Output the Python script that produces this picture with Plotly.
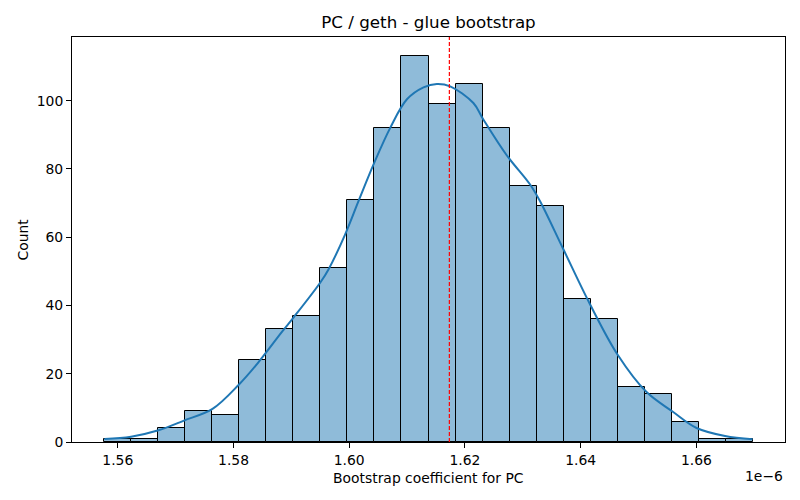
import numpy as np
import plotly.graph_objects as go

# ---- data (x values in units of 1e-6) ----
bin_min = 1.55769
bin_max = 1.66970
counts = [1, 1, 4, 9, 8, 24, 33, 37, 51, 71, 92, 113, 99, 105, 92, 75, 69, 42, 36, 16, 14, 6, 1, 1]

kde_x = [1.55769, 1.56229, 1.56689, 1.57143, 1.57637, 1.58095, 1.58413, 1.58843, 1.59043,
         1.59503, 1.59646, 1.59926, 1.60163, 1.60422, 1.60710, 1.60997, 1.61283, 1.61514,
         1.61744, 1.62145, 1.62317, 1.62721, 1.63122, 1.63295, 1.63696, 1.64156, 1.64644,
         1.65133, 1.65592, 1.66002, 1.66495, 1.66970]
kde_y = [0.88, 1.55, 3.36, 6.28, 9.69, 16.85, 22.98, 32.4, 36.6,
         46.8, 50.7, 60.7, 70.7, 81.4, 92.1, 100.4, 103.9, 104.9,
         104.2, 99.3, 94.5, 84.0, 75.5, 70.6, 56.6, 40.5, 25.4,
         14.7, 8.85, 4.1, 1.75, 0.79]

point_estimate = 1.6173

x_tick_vals = [1.56, 1.58, 1.60, 1.62, 1.64, 1.66]
x_tick_text = ["1.56", "1.58", "1.60", "1.62", "1.64", "1.66"]
y_tick_vals = [0, 20, 40, 60, 80, 100]

title = "PC / geth - glue bootstrap"
x_label = "Bootstrap coefficient for PC"
y_label = "Count"
offset_text = "1e\u22126"

# ---- derived ----
n_bins = len(counts)
edges = np.linspace(bin_min, bin_max, n_bins + 1)
centers = (edges[:-1] + edges[1:]) / 2
width = edges[1] - edges[0]
span = bin_max - bin_min
x_range = [bin_min - 0.05 * span, bin_max + 0.05 * span]
y_range = [0, max(counts) * 1.05]

font = "DejaVu Sans"
W, H = 792, 492          # page body has an 8px margin
ML, MR, MT, MB = 64, 15, 29, 58
PW = W - ML - MR
PH = H - MT - MB

fig = go.Figure()
fig.add_trace(go.Bar(
    x=centers, y=counts, width=width,
    marker=dict(color="rgba(31,119,180,0.5)", line=dict(color="black", width=1)),
    showlegend=False, hoverinfo="skip",
))
fig.add_trace(go.Scatter(
    x=kde_x, y=kde_y, mode="lines",
    line=dict(color="#1f77b4", width=2, shape="spline", smoothing=1.0),
    showlegend=False, hoverinfo="skip",
))
fig.add_shape(type="line", x0=point_estimate, x1=point_estimate, xref="x", yref="paper", y0=0, y1=1,
              line=dict(color="#ff0000", width=1.2, dash="4px,2px"))

fig.update_layout(
    width=W, height=H,
    margin=dict(l=ML, r=MR, t=MT, b=MB),
    plot_bgcolor="white", paper_bgcolor="white",
    font=dict(family=font, size=13.9, color="black"),
    title=dict(text=title, x=(ML + PW / 2) / W, xanchor="center", y=1 - 14 / H, yanchor="middle",
               font=dict(size=16.7, family=font, color="black")),
    bargap=0,
    annotations=[
        dict(text=offset_text, xref="paper", yref="paper", x=1, y=-34 / PH,
             xanchor="right", yanchor="middle", showarrow=False,
             font=dict(size=13.9, family=font, color="black")),
        dict(text=x_label, xref="paper", yref="paper", x=0.5, y=-36 / PH,
             xanchor="center", yanchor="middle", showarrow=False,
             font=dict(size=13.9, family=font, color="black")),
        dict(text=y_label, xref="paper", yref="paper", x=-50 / PW, y=0.5, textangle=-90,
             xanchor="center", yanchor="middle", showarrow=False,
             font=dict(size=13.9, family=font, color="black")),
    ],
)
fig.update_xaxes(
    range=x_range, tickvals=x_tick_vals, ticktext=x_tick_text, automargin=False,
    showline=True, mirror=True, linecolor="black", linewidth=1,
    ticks="outside", ticklen=5, tickcolor="black", showgrid=False, zeroline=False,
)
fig.update_yaxes(
    range=y_range, tickvals=y_tick_vals, automargin=False,
    showline=True, mirror=True, linecolor="black", linewidth=1,
    ticks="outside", ticklen=5, tickcolor="black", showgrid=False, zeroline=False,
)

fig.write_html("out.html")
